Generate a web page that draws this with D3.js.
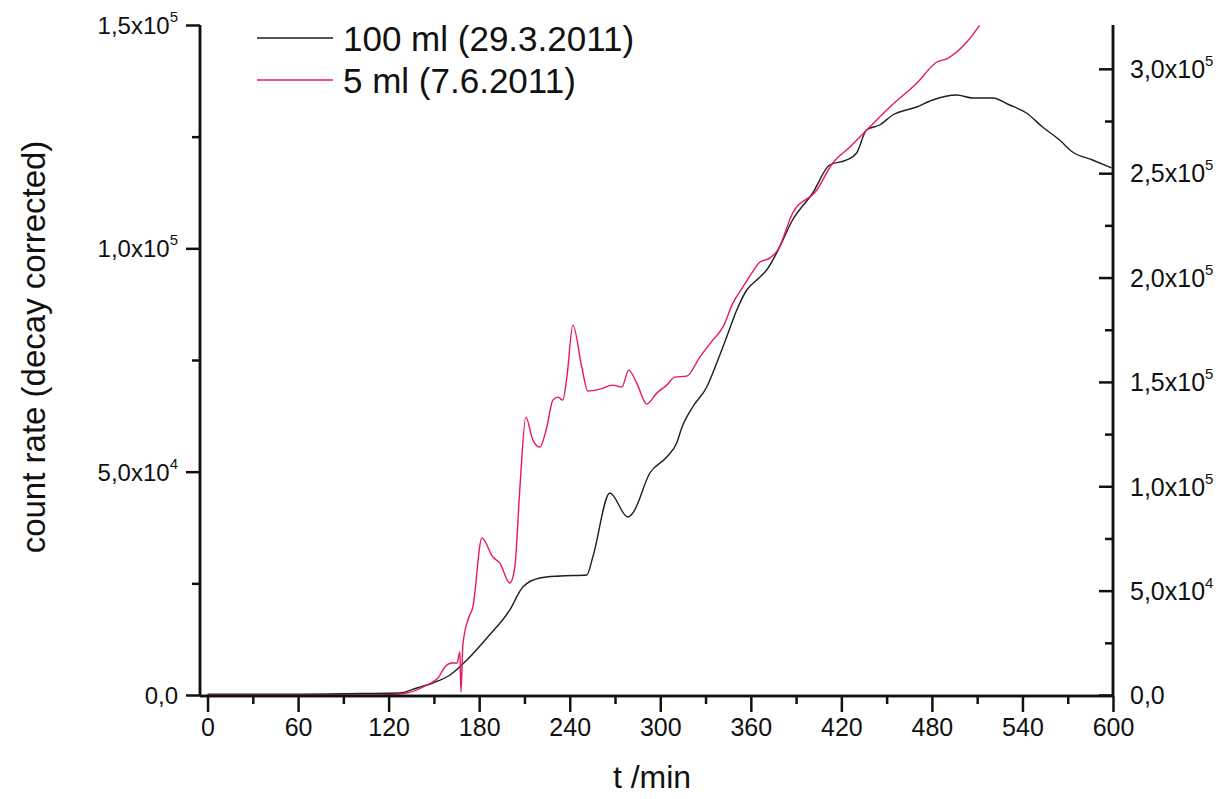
<!DOCTYPE html>
<html>
<head>
<meta charset="utf-8">
<script src="https://cdn.jsdelivr.net/npm/d3@7"></script>
<style>
  body { margin: 0; background: #fff; }
  text { font-family: "Liberation Sans", Arial, sans-serif; fill: #111; }
</style>
</head>
<body>
<div id="chart"></div>
<script>
(function(){
	var width = 1225;
	var height = 799;

	// 100 ml run (left axis)
	var blackT = [0, 61, 101, 127.5, 138.7, 149.3, 160.6, 171.9, 185.1, 200.3, 208.9, 220.2, 233.5, 251.3, 255.3, 266.6, 278.5, 281.8, 293.1, 304.3, 310.9, 314.2, 321.5, 330.8, 337.4, 344, 350.7, 357.3, 363.9, 370.5, 377.1, 387.7, 401, 412.2, 423.5, 430.1, 436.7, 445.4, 454, 469.9, 480.5, 496.4, 507, 520.2, 531.5, 542.7, 553.3, 564.6, 573.2, 586.4, 599];
	var blackV = [200, 200, 340, 450, 1570, 2690, 4480, 7840, 12760, 19030, 24180, 26190, 26640, 26870, 30900, 45220, 39850, 40750, 49700, 53280, 56420, 59780, 64480, 68960, 74330, 80150, 86190, 90670, 92910, 95150, 98960, 106340, 112390, 118660, 119780, 121340, 126490, 127610, 129850, 131640, 133210, 134330, 133660, 133660, 132090, 130300, 127160, 124250, 121570, 119780, 117990];

	// 5 ml run (right axis)
	var redT = [0, 61, 116, 132.1, 145.4, 152.7, 157.3, 162, 165.3, 167.2, 167.9, 169.2, 172.5, 175.8, 181.8, 189.1, 193.7, 200.3, 203.6, 207, 210.9, 215.6, 220.2, 224.8, 228.8, 232.1, 235.4, 238.1, 242.1, 248, 252, 259.9, 268.5, 274.5, 279.1, 284.4, 291, 297.7, 304.3, 309.6, 317.5, 326.2, 334.8, 341.5, 348.1, 354.7, 360.6, 365.9, 372.5, 377.8, 387.7, 403.6, 414.2, 425.5, 436.7, 452, 469.9, 483.1, 490.4, 503, 511.6];
	var redV = [0, 0, 0, 960, 4790, 8140, 13410, 15320, 15320, 20590, 1440, 23950, 35920, 42140, 75190, 66090, 63210, 53640, 61300, 99610, 133130, 122120, 118770, 128350, 141280, 142710, 141280, 152290, 177190, 157080, 145590, 146540, 148460, 147500, 155640, 149420, 139360, 144630, 148460, 152290, 152770, 161870, 170010, 176240, 187730, 195390, 202100, 207370, 209280, 213110, 230830, 241840, 254770, 262440, 270580, 281590, 293090, 303150, 305060, 312720, 320860];

	var seriesNames = ["100 ml (29.3.2011)", "5 ml (7.6.2011)"];
	var seriesColors = ["#1e1e1e", "#e8185a"];

	var xTicks = [0, 60, 120, 180, 240, 300, 360, 420, 480, 540, 600];
	var xMinor = [30, 90, 150, 210, 270, 330, 390, 450, 510, 570];
	var leftTicks = [0, 50000, 100000, 150000];
	var leftLabels = [["0,0", ""], ["5,0x10", "4"], ["1,0x10", "5"], ["1,5x10", "5"]];
	var leftMinor = [25000, 75000, 125000];
	var rightTicks = [0, 50000, 100000, 150000, 200000, 250000, 300000];
	var rightLabels = [["0,0", ""], ["5,0x10", "4"], ["1,0x10", "5"], ["1,5x10", "5"], ["2,0x10", "5"], ["2,5x10", "5"], ["3,0x10", "5"]];
	var rightMinor = [25000, 75000, 125000, 175000, 225000, 275000];

	var svg = d3.select('#chart').append('svg')
		.attr('width', width)
		.attr('height', height);

	var x = d3.scaleLinear().domain([-5, 600]).range([200, 1113]);
	var yL = d3.scaleLinear().domain([0, 150000]).range([695, 25]);
	var yR = d3.scaleLinear().domain([0, 321000]).range([695, 25]);

	function label(sel, parts){
		sel.text(parts[0]);
		if(parts[1]){
			sel.append('tspan')
				.attr('dy', -12)
				.style('font-size', '15px')
				.text(parts[1]);
		}
	}

	// data lines
	var blackData = blackT.map(function(t, i){ return [t, blackV[i]]; });
	var redData = redT.map(function(t, i){ return [t, redV[i]]; });

	svg.append('path')
		.datum(blackData)
		.attr('fill', 'none')
		.attr('stroke', seriesColors[0])
		.attr('stroke-width', 1.4)
		.attr('d', d3.line().curve(d3.curveMonotoneX)
			.x(function(d){ return x(d[0]); })
			.y(function(d){ return yL(d[1]); }));

	svg.append('path')
		.datum(redData)
		.attr('fill', 'none')
		.attr('stroke', seriesColors[1])
		.attr('stroke-width', 1.4)
		.attr('d', d3.line().curve(d3.curveMonotoneX)
			.x(function(d){ return x(d[0]); })
			.y(function(d){ return yR(d[1]); }));

	// bottom axis
	var bottom = svg.append('g').attr('transform', 'translate(0,696)');
	bottom.call(d3.axisBottom(x).tickValues(xMinor).tickSize(8).tickFormat(''));
	bottom.call(function(g){
		g.append('g').call(d3.axisBottom(x).tickValues(xTicks).tickSize(16).tickPadding(6).tickFormat(d3.format('d')));
	});
	bottom.selectAll('text').style('font-size', '25px').attr('fill', '#111');

	// left axis
	var left = svg.append('g').attr('transform', 'translate(200,0)');
	left.call(d3.axisLeft(yL).tickValues(leftMinor).tickSize(8).tickFormat(''));
	var leftMajor = left.append('g').call(d3.axisLeft(yL).tickValues(leftTicks).tickSize(14).tickPadding(6).tickFormat(''));
	leftMajor.selectAll('.tick').append('text')
		.attr('x', -22)
		.attr('dy', '0.35em')
		.attr('text-anchor', 'end')
		.style('font-size', '24px')
		.attr('fill', '#111')
		.each(function(d, i){ label(d3.select(this), leftLabels[i]); });

	// right axis (ticks pointing inward)
	var right = svg.append('g').attr('transform', 'translate(1113,0)');
	right.call(d3.axisLeft(yR).tickValues(rightMinor).tickSize(8).tickFormat(''));
	var rightMajor = right.append('g').call(d3.axisLeft(yR).tickValues(rightTicks).tickSize(14).tickFormat(''));
	rightMajor.selectAll('.tick').append('text')
		.attr('x', 17)
		.attr('dy', '0.35em')
		.attr('text-anchor', 'start')
		.style('font-size', '25px')
		.attr('fill', '#111')
		.each(function(d, i){ label(d3.select(this), rightLabels[i]); });

	svg.selectAll('.domain').attr('stroke', '#111').attr('stroke-width', 2.5);
	svg.selectAll('.tick line').attr('stroke', '#111').attr('stroke-width', 2.5);
	// plain axis lines, no end caps
	left.selectAll('.domain').attr('d', 'M0,695.5V25');
	right.selectAll('.domain').attr('d', 'M0,696V25');
	bottom.selectAll('.domain').attr('d', 'M200,0H1113');

	// axis titles
	svg.append('text')
		.attr('transform', 'translate(45,347) rotate(-90)')
		.attr('text-anchor', 'middle')
		.style('font-size', '33px')
		.text('count rate (decay corrected)');

	svg.append('text')
		.attr('x', 652)
		.attr('y', 788)
		.attr('text-anchor', 'middle')
		.style('font-size', '32px')
		.text('t /min');

	// legend
	var legend = svg.append('g');
	seriesNames.forEach(function(name, i){
		var ly = 38 + i * 42;
		legend.append('line')
			.attr('x1', 257).attr('x2', 333)
			.attr('y1', ly).attr('y2', ly)
			.attr('stroke', seriesColors[i])
			.attr('stroke-width', 1.4);
		legend.append('text')
			.attr('x', 343)
			.attr('y', ly)
			.attr('dy', '0.36em')
			.style('font-size', '35px')
			.text(name);
	});
})();
</script>
</body>
</html>
